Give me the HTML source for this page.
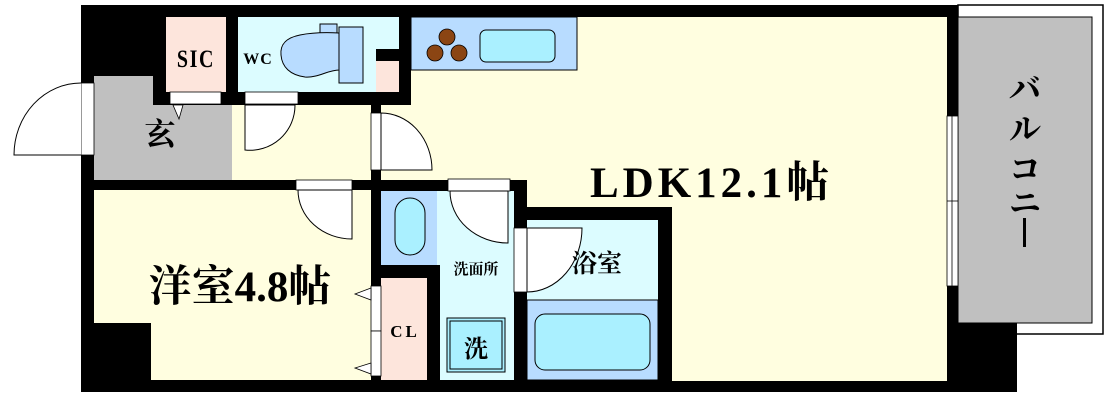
<!DOCTYPE html>
<html><head><meta charset="utf-8"><style>
html,body{margin:0;padding:0;background:#fff;}
svg{display:block}
text{font-family:"Liberation Serif","Noto Serif CJK SC",serif;font-weight:bold;fill:#000}
</style></head><body>
<svg width="1110" height="404" viewBox="0 0 1110 404" xmlns="http://www.w3.org/2000/svg">
<rect x="958" y="5" width="145" height="329" fill="#fff" stroke="#000" stroke-width="1.5"/>
<rect x="958" y="17" width="134" height="306" fill="#c0c0c0" stroke="#000" stroke-width="1"/>
<polygon points="81,5 958,5 958,323 1017,323 1017,392 81,392" fill="#000"/>
<polygon points="411,17 947,17 947,381 672,381 672,207 527,207 527,180 381,180 381,105 411,105" fill="#fffee0"/>
<rect x="411" y="17" width="166" height="53" fill="#b8dcff" stroke="#000" stroke-width="1"/>
<rect x="480" y="30" width="75" height="32" rx="6" fill="#aaf0ff" stroke="#000" stroke-width="1"/>
<circle cx="447" cy="37" r="8" fill="#8b4513" stroke="#000" stroke-width="0.8"/>
<circle cx="435" cy="53" r="8" fill="#8b4513" stroke="#000" stroke-width="0.8"/>
<circle cx="459" cy="53" r="8" fill="#8b4513" stroke="#000" stroke-width="0.8"/>
<rect x="166" y="17" width="60" height="75" fill="#fde5dc"/>
<rect x="238" y="17" width="161" height="75" fill="#dcfcff"/>
<rect x="376" y="49" width="23" height="12" fill="#000"/>
<rect x="376" y="61" width="23" height="31" fill="#fde5dc"/>
<rect x="320" y="24" width="17" height="10" fill="#b8dcff" stroke="#000" stroke-width="1"/>
<path d="M339,33 C320,32 310,33 300,35 C285,38 280,45 281,55 C282,67 290,75 305,77 C318,78 328,70 339,70 Z" fill="#b8dcff" stroke="#000" stroke-width="1"/>
<rect x="339" y="27" width="24" height="56" fill="#b8dcff" stroke="#000" stroke-width="1"/>
<rect x="170" y="92" width="51" height="12" fill="#fff" stroke="#000" stroke-width="0.8"/>
<rect x="245" y="92" width="53" height="12" fill="#fff" stroke="#000" stroke-width="0.8"/>
<polygon points="94,76 153,76 153,105 232,105 232,180 94,180" fill="#c0c0c0"/>
<rect x="232" y="105" width="139" height="75" fill="#fffee0"/>
<polygon points="173,105 183,105 179,119" fill="#fff" stroke="#000" stroke-width="0.8"/>
<path d="M245,105 L245,150 A45,45 0 0 0 295,105 Z" fill="#fff" stroke="#000" stroke-width="1"/>
<rect x="81" y="83" width="13" height="72" fill="#fff" stroke="#000" stroke-width="0.8"/>
<path d="M81,155 L14,155 A67,72 0 0 1 81,83" fill="#fff" stroke="#000" stroke-width="1"/>
<rect x="371" y="113" width="10" height="57" fill="#fff" stroke="#000" stroke-width="0.8"/>
<path d="M381,113 A51,57 0 0 1 432,170 L381,170 Z" fill="#fff" stroke="#000" stroke-width="1"/>
<polygon points="94,190 371,190 371,380 151,380 151,323 94,323" fill="#fffee0"/>
<rect x="296" y="180" width="56" height="10" fill="#fff" stroke="#000" stroke-width="0.8"/>
<path d="M352,190 L352,239 A54,49 0 0 1 298,190 Z" fill="#fff" stroke="#000" stroke-width="1"/>
<rect x="381" y="278" width="46" height="102" fill="#fde5dc"/>
<rect x="371" y="286" width="10" height="45" fill="#fff" stroke="#000" stroke-width="0.8"/>
<rect x="371" y="331" width="10" height="45" fill="#fff" stroke="#000" stroke-width="0.8"/>
<polygon points="371,288 355,294 371,300" fill="#fff" stroke="#000" stroke-width="0.8"/>
<polygon points="371,363 355,368 371,374" fill="#fff" stroke="#000" stroke-width="0.8"/>
<rect x="381" y="191" width="56" height="74" fill="#b8dcff"/>
<rect x="395" y="198" width="30" height="57" rx="15" fill="#aaf0ff" stroke="#000" stroke-width="1"/>
<rect x="440" y="191" width="74" height="189" fill="#dcfcff"/>
<rect x="437" y="191" width="4" height="74" fill="#dcfcff"/>
<rect x="448" y="179" width="62" height="12" fill="#fff" stroke="#000" stroke-width="0.8"/>
<path d="M508,191 L508,243 A58,52 0 0 1 450,191 Z" fill="#fff" stroke="#000" stroke-width="1"/>
<rect x="447" y="318" width="58" height="54" fill="#aaf0ff" stroke="#000" stroke-width="1"/>
<rect x="450" y="321" width="52" height="48" fill="none" stroke="#000" stroke-width="1"/>
<rect x="527" y="220" width="131" height="80" fill="#dcfcff"/>
<rect x="527" y="300" width="131" height="80" fill="#b8dcff" stroke="#000" stroke-width="1"/>
<rect x="535" y="314" width="115" height="56" rx="10" fill="#aaf0ff" stroke="#000" stroke-width="1"/>
<rect x="514" y="228" width="13" height="64" fill="#fff" stroke="#000" stroke-width="0.8"/>
<path d="M527,228 L582,228 A55,64 0 0 1 527,292 Z" fill="#fff" stroke="#000" stroke-width="1"/>
<rect x="947" y="116" width="11" height="170" fill="#fff" stroke="#000" stroke-width="0.8"/>
<line x1="952" y1="116" x2="952" y2="286" stroke="#000" stroke-width="0.8"/>
<line x1="947" y1="201" x2="958" y2="201" stroke="#000" stroke-width="0.8"/>
<text x="196" y="67" font-size="25" text-anchor="middle" font-weight="normal" transform="translate(196,0) scale(0.8,1) translate(-196,0)" letter-spacing="2">SIC</text>
<text x="258" y="64" font-size="16" text-anchor="middle" letter-spacing="1">WC</text>
<text x="160" y="145" font-size="31" text-anchor="middle">玄</text>
<text x="240" y="301" font-size="43" text-anchor="middle">洋室4.8帖</text>
<text x="405" y="337" font-size="17" text-anchor="middle" letter-spacing="3">CL</text>
<text x="476" y="274" font-size="15" text-anchor="middle" font-weight="normal">洗面所</text>
<text x="476" y="357" font-size="24" text-anchor="middle">洗</text>
<text x="597" y="272" font-size="25" text-anchor="middle">浴室</text>
<text x="590" y="197" font-size="43" letter-spacing="4">LDK12.1帖</text>
<text x="1025" y="100" font-size="32" text-anchor="middle">バ</text>
<text x="1025" y="140" font-size="32" text-anchor="middle">ル</text>
<text x="1025" y="180" font-size="32" text-anchor="middle">コ</text>
<text x="1025" y="214" font-size="32" text-anchor="middle">ニ</text>
<rect x="1023" y="218" width="3" height="29" fill="#000"/>
</svg>
</body></html>
